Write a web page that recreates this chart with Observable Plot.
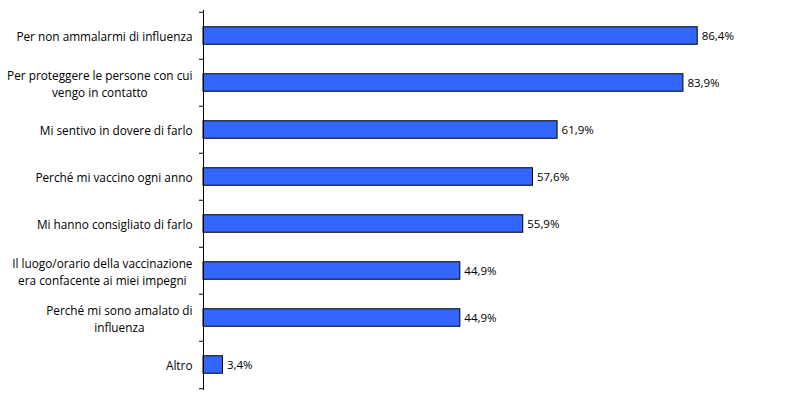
<!DOCTYPE html>
<html>
<head>
<meta charset="utf-8">
<script src="https://cdn.jsdelivr.net/npm/d3@7"></script>
<script src="https://cdn.jsdelivr.net/npm/@observablehq/plot@0.6"></script>
<style>
  html, body { margin: 0; padding: 0; background: #fff; }
</style>
</head>
<body>
<div id="chart"></div>
<script>
const categories = [
  "Per non ammalarmi di influenza",
  "Per proteggere le persone con cui vengo in contatto",
  "Mi sentivo in dovere di farlo",
  "Perché mi vaccino ogni anno",
  "Mi hanno consigliato di farlo",
  "Il luogo/orario della vaccinazione era confacente ai miei impegni",
  "Perché mi sono amalato di influenza",
  "Altro"
];
const tickLabels = [
  "Per non ammalarmi di influenza",
  "Per proteggere le persone con cui\nvengo in contatto",
  "Mi sentivo in dovere di farlo",
  "Perché mi vaccino ogni anno",
  "Mi hanno consigliato di farlo",
  "Il luogo/orario della vaccinazione\nera confacente ai miei impegni",
  "Perché mi sono amalato di\ninfluenza",
  "Altro"
];
const values = [86.4, 83.9, 61.9, 57.6, 55.9, 44.9, 44.9, 3.4];
const valueLabels = ["86,4%", "83,9%", "61,9%", "57,6%", "55,9%", "44,9%", "44,9%", "3,4%"];

const data = categories.map((c, i) => ({cat: c, value: values[i], label: valueLabels[i]}));
const labelOf = new Map(categories.map((c, i) => [c, tickLabels[i]]));

const W = 787, H = 397, mT = 10, mB = 7;
const step = (H - mT - mB) / categories.length;
const barH = 18;
const inset = (step - barH) / 2;

const chart = Plot.plot({
  width: W,
  height: H,
  marginLeft: 203,
  marginRight: 12,
  marginTop: mT,
  marginBottom: mB,
  style: {fontFamily: "'Open Sans', sans-serif", fontSize: "12px", color: "#000", background: "#fff"},
  x: {domain: [0, 100], axis: null},
  y: {domain: categories, padding: 0, axis: null, label: null},
  marks: [
    Plot.barX(data, {x: "value", y: "cat", fill: "#3366FF", stroke: "#000", strokeWidth: 1, insetTop: inset, insetBottom: inset}),
    Plot.text(data, {x: "value", y: "cat", text: "label", textAnchor: "start", dx: 4, fill: "#000", fontSize: 11.5}),
    Plot.ruleX([0], {stroke: "#000", strokeWidth: 1}),
    Plot.ruleY(categories, {y: d => d, x1: -0.7, x2: 0, dy: -step / 2, stroke: "#000"}),
    Plot.ruleY([categories[categories.length - 1]], {y: d => d, x1: -0.7, x2: 0, dy: step / 2, stroke: "#000"}),
    Plot.axisY({tickSize: 0, tickPadding: 11, label: null, tickFormat: d => labelOf.get(d), fontSize: 11.8, lineHeight: 1.4, fill: "#000"})
  ]
});
document.getElementById("chart").appendChild(chart);

// center wrapped (multi-line) tick labels like the original
chart.querySelectorAll('g[aria-label="y-axis tick label"] text').forEach(t => {
  const spans = t.querySelectorAll("tspan");
  if (spans.length > 1) {
    let w = 0;
    spans.forEach(s => { w = Math.max(w, s.getComputedTextLength()); });
    t.setAttribute("text-anchor", "middle");
    spans.forEach(s => s.setAttribute("x", -w / 2));
  }
});
</script>
</body>
</html>
